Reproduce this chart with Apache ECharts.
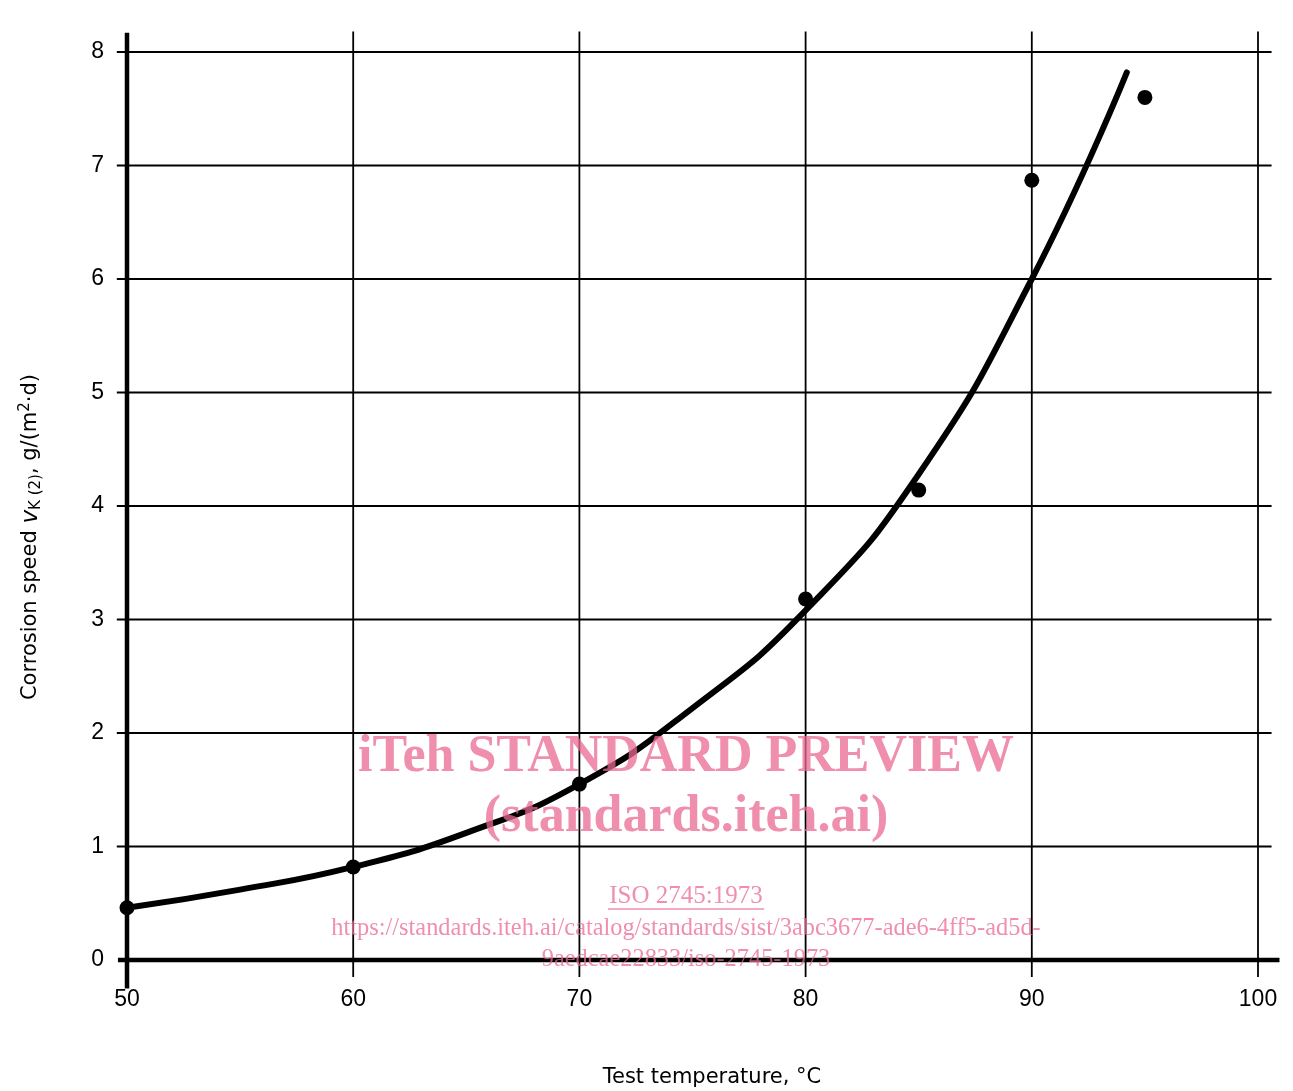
<!DOCTYPE html>
<html>
<head>
<meta charset="utf-8">
<script src="https://cdn.jsdelivr.net/npm/echarts@6/dist/echarts.min.js"></script>
<style>
  html, body { margin: 0; padding: 0; background: #fff; }
  #chart { width: 1293px; height: 1091px; }
</style>
</head>
<body>
<div id="chart"></div>
<script>
// ---- data ----
const xTicks = [50, 60, 70, 80, 90, 100];
const yTicks = [0, 1, 2, 3, 4, 5, 6, 7, 8];
const measuredTemp  = [50, 60, 70, 80, 85, 90, 95];
const measuredSpeed = [0.46, 0.82, 1.55, 3.18, 4.14, 6.87, 7.60];
const curveTemp  = [50, 55, 60, 65, 70, 75, 80, 85, 90, 94.2];
const curveSpeed = [0.46, 0.62, 0.82, 1.12, 1.55, 2.22, 3.08, 4.28, 6.0, 7.82];
const xTitle = 'Test temperature, °C';
const watermark1 = 'iTeh STANDARD PREVIEW';
const watermark2 = '(standards.iteh.ai)';
const watermark3 = 'ISO 2745:1973';
const watermark4 = 'https://standards.iteh.ai/catalog/standards/sist/3abc3677-ade6-4ff5-ad5d-';
const watermark5 = '9aedcae22833/iso-2745-1973';

// ---- build grid segments from tick arrays ----
const xMin = xTicks[0], xMax = xTicks[xTicks.length - 1];
const yMin = yTicks[0], yMax = yTicks[yTicks.length - 1];
const segs = [];
xTicks.forEach(function (x) {
  if (x === xMin) segs.push([x, yMin - 0.25, x, yMax + 0.17, 4.5]);
  else segs.push([x, yMin - 0.15, x, yMax + 0.18, 1.8]);
});
yTicks.forEach(function (y) {
  if (y === yMin) segs.push([xMin - 0.4, y, xMax + 0.95, y, 4.5]);
  else segs.push([xMin - 0.45, y, xMax + 0.6, y, 1.8]);
});

const chart = echarts.init(document.getElementById('chart'), null, { renderer: 'canvas' });
const font = '"Liberation Sans", Arial, Helvetica, sans-serif';
const titleFont = '"DejaVu Sans", "Liberation Sans", Arial, sans-serif';
const serif = '"Liberation Serif", "Times New Roman", serif';
const pink = 'rgba(234,105,145,0.75)';

chart.setOption({
  backgroundColor: '#ffffff',
  animation: false,
  grid: { left: 127, right: 35, top: 52, bottom: 131 },
  xAxis: {
    type: 'value', min: xMin, max: xMax, interval: 10,
    axisLine: { show: false }, axisTick: { show: false }, splitLine: { show: false },
    axisLabel: { color: '#000', fontSize: 23, fontFamily: font, margin: 28 }
  },
  yAxis: {
    type: 'value', min: yMin, max: yMax, interval: 1,
    axisLine: { show: false }, axisTick: { show: false }, splitLine: { show: false },
    axisLabel: { color: '#000', fontSize: 23, fontFamily: font, margin: 23 }
  },
  series: [
    {
      type: 'custom',
      clip: false,
      silent: true,
      z: 1,
      encode: { x: [0, 2], y: [1, 3] },
      data: segs,
      renderItem: function (params, api) {
        const p1 = api.coord([api.value(0), api.value(1)]);
        const p2 = api.coord([api.value(2), api.value(3)]);
        return {
          type: 'line',
          shape: { x1: p1[0], y1: p1[1], x2: p2[0], y2: p2[1] },
          style: { stroke: '#000', lineWidth: api.value(4) }
        };
      }
    },
    {
      type: 'line',
      z: 3,
      data: curveTemp.map(function (t, i) { return [t, curveSpeed[i]]; }),
      smooth: 0.5,
      showSymbol: false,
      lineStyle: { color: '#000', width: 6, cap: 'round' }
    },
    {
      type: 'scatter',
      z: 4,
      data: measuredTemp.map(function (t, i) { return [t, measuredSpeed[i]]; }),
      symbol: 'circle',
      symbolSize: 15,
      itemStyle: { color: '#000', opacity: 1 }
    }
  ],
  graphic: [
    {
      type: 'text', x: 712, y: 1078, z: 10,
      style: { text: xTitle, fontSize: 21, fontFamily: titleFont, fill: '#000', align: 'center', verticalAlign: 'middle' }
    },
    {
      type: 'text', x: 31, y: 537, rotation: Math.PI / 2, z: 10,
      style: {
        text: '{n|Corrosion speed }{i|v}{s|K (2)}{n|, g/(m}{p|2}{n|·d)}',
        align: 'center', verticalAlign: 'middle', fill: '#000',
        rich: {
          n: { fontSize: 21, fontFamily: titleFont, fill: '#000', lineHeight: 26 },
          i: { fontSize: 23, fontFamily: titleFont, fontStyle: 'italic', fill: '#000', lineHeight: 26 },
          s: { fontSize: 15, fontFamily: titleFont, fill: '#000', lineHeight: 14, verticalAlign: 'bottom' },
          p: { fontSize: 15, fontFamily: titleFont, fill: '#000', lineHeight: 14, verticalAlign: 'top' }
        }
      }
    },
    {
      type: 'text', x: 686, y: 758, z: 20,
      style: { text: watermark1, fontSize: 52, fontWeight: 'bold', fontFamily: serif, fill: pink, align: 'center', verticalAlign: 'middle' }
    },
    {
      type: 'text', x: 686, y: 818, z: 20,
      style: { text: watermark2, fontSize: 52, fontWeight: 'bold', fontFamily: serif, fill: pink, align: 'center', verticalAlign: 'middle' }
    },
    {
      type: 'text', x: 686, y: 896, z: 20,
      style: { text: watermark3, fontSize: 25, fontFamily: serif, fill: pink, align: 'center', verticalAlign: 'middle' }
    },
    {
      type: 'line', z: 20,
      shape: { x1: 608, y1: 909, x2: 764, y2: 909 },
      style: { stroke: pink, lineWidth: 1.5 }
    },
    {
      type: 'text', x: 686, y: 929, z: 20,
      style: { text: watermark4, fontSize: 24.4, fontFamily: serif, fill: pink, align: 'center', verticalAlign: 'middle' }
    },
    {
      type: 'text', x: 686, y: 960, z: 20,
      style: { text: watermark5, fontSize: 24.4, fontFamily: serif, fill: pink, align: 'center', verticalAlign: 'middle' }
    }
  ]
});
</script>
</body>
</html>
